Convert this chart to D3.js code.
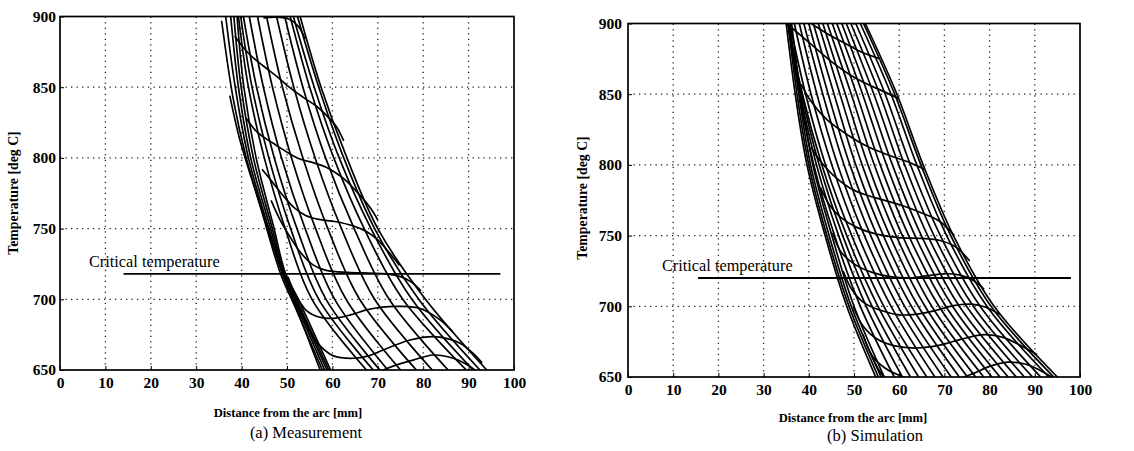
<!DOCTYPE html>
<html><head><meta charset="utf-8">
<script src="https://cdn.jsdelivr.net/npm/d3@7/dist/d3.min.js"></script>
<style>body{margin:0;background:#fff}svg{display:block}</style>
</head><body>
<svg id="c" width="1134" height="451"></svg>
<script>
// ---------- data ----------
const xTicks = [0,10,20,30,40,50,60,70,80,90,100];
const yTicks = [650,700,750,800,850,900];
const criticalTemp = [718, 720];           // (a), (b)
const criticalSpan = [[14,97],[15.5,98]];  // mm
const panelTitles = ["(a) Measurement", "(b) Simulation"];
const xLabel = "Distance from the arc [mm]";
const yLabel = "Temperature [deg C]";
const critLabel = "Critical temperature";

// temperature levels at which the steep lines are sampled
const tLevels = [900,850,800,750,700,650];

// (a) measurement: bundle of curves pinching near 49 mm / 718 C  ([mm, degC])
const measBundle = [
  [[35.6,897],[38.2,841],[41.1,799],[45.5,752],[49.0,718],[52.5,690],[57.3,650]],
  [[37.4,844],[39.6,813],[44.1,766],[48.6,718],[52.0,693],[57.8,650]],
  [[36.5,900],[38.6,850],[41.5,800],[45.8,752],[49.1,718],[51.5,700],[58.3,650]],
  [[37.6,900],[39.3,850],[42.0,800],[46.2,752],[49.3,718],[51.8,700],[58.8,650]],
  [[38.3,900],[39.9,850],[42.6,800],[46.6,752],[49.5,718],[52.1,700],[59.2,650]],
  [[39.0,900],[40.5,850],[43.2,800],[47.0,752],[49.7,718],[52.5,700],[59.6,650]]
];
// (a) measurement: steep curves, x [mm] at tLevels
const measSteep = [
  [39.3,41.5,45.0,49.6,55.5,67.5],
  [39.8,42.3,46.0,50.8,57.0,69.0],
  [40.4,43.3,47.2,52.2,58.6,70.5],
  [41.7,44.8,48.8,54.0,60.5,72.2],
  [43.5,46.8,51.0,56.3,63.0,75.0],
  [45.5,49.0,53.5,59.0,66.0,78.5],
  [47.7,51.5,56.2,62.0,69.3,82.0],
  [49.5,53.5,58.5,64.8,72.5,85.5],
  [50.7,55.0,60.3,67.0,75.5,89.5],
  [51.4,56.0,61.5,68.5,77.5,91.0],
  [52.3,57.0,62.5,69.3,79.0,92.5],
  [52.9,57.5,63.2,70.0,80.5,94.0]
];
// (a) measurement: wavy curves ([mm, degC])
const measWavy = [
  [[44.8,899],[47.5,899.5],[50.5,898],[52.5,893],[54.0,884]],
  [[38.5,886],[41.5,874],[44.8,865],[48,857],[50.7,849.5],[53.5,843],[56.5,836.5],[59,829],[60.9,822],[62.5,812]],
  [[41,828],[43.5,818],[47.6,809],[50.3,803.5],[53,799],[55.9,796.5],[58.5,793.5],[60.7,789.5],[63,784],[64.8,778],[66.5,772],[68.5,764],[70,756]],
  [[44.5,792],[47,782],[49.5,772],[51.5,765],[54,759.5],[57,756.5],[60.5,755],[64.5,752],[67.5,748],[70,742],[72.5,733],[74.8,724]],
  [[46.5,770],[48.5,756],[50.5,745],[53,733],[55.9,724],[58.6,720.5],[63.4,719],[68,718.5],[72,718],[75,716],[77.5,712],[79.5,706]],
  [[50.2,716],[51.8,704],[54.3,692],[57,687.5],[60.2,686.5],[64,689],[67.5,692.5],[71,694.5],[74.9,695],[79.3,693.5],[83.7,685.5],[86.5,677]],
  [[52.2,698],[53.8,686],[55.3,676],[57.3,667],[60.2,660],[64.6,658.3],[68,660],[71.2,664.2],[77.1,671.2],[82.2,673.6],[85.5,672],[88.1,669],[91,661.8],[93,655]],
  [[68,645],[71.2,650],[74.5,654],[77.8,657],[82.2,660.6],[86.6,658.3],[89,655],[91,651],[92,648]]
];

// (b) simulation: left bundle, x [mm] at tLevels
const simBundle = [
  [35.0,37.0,39.6,43.6,48.4,54.8],
  [35.4,37.4,40.0,44.0,48.9,55.4],
  [35.8,37.8,40.4,44.5,49.4,56.0],
  [36.2,38.2,40.9,45.1,50.0,56.7]
];
// (b) simulation: fan of steep lines, x [mm] at tLevels
const simSteep = [
  [35.4,37.9,41.1,45.7,51.4,58.9],
  [35.4,38.1,41.7,46.6,52.7,60.7],
  [35.4,38.4,42.3,47.5,54.0,62.5],
  [35.4,38.6,42.9,48.4,55.3,64.3],
  [35.8,39.3,43.7,49.5,56.6,66.1],
  [36.8,40.5,45.1,50.9,58.2,67.9],
  [37.9,41.8,46.4,52.3,59.7,69.7],
  [38.9,43.1,47.8,53.7,61.2,71.5],
  [40.0,44.3,49.1,55.1,62.7,73.3],
  [41.0,45.6,50.4,56.5,64.2,75.1],
  [42.1,46.9,51.8,57.9,65.7,76.9],
  [43.1,48.1,53.1,59.3,67.2,78.7],
  [44.1,49.4,54.5,60.7,68.8,80.5],
  [45.2,50.6,55.8,62.1,70.3,82.3],
  [46.2,51.9,57.2,63.5,71.8,84.1],
  [47.3,53.1,58.5,64.9,73.3,85.9],
  [48.3,54.4,59.9,66.3,74.9,87.7],
  [49.3,55.7,61.2,67.7,76.4,89.5],
  [50.4,56.9,62.5,69.1,77.9,91.3],
  [51.4,58.2,63.9,70.5,79.4,93.1]
];
// (b) simulation: right envelope, x [mm] at tLevels
const simEnvelope = [
  [52.1,59.0,64.8,71.4,80.3,94.2],
  [52.5,59.5,65.3,72.0,81.0,95.0]
];
// (b) simulation: wavy curves ([mm, degC])
const simWavy = [
  [[40.5,900],[44,893],[48,886],[51.5,880],[55.8,875]],
  [[36.2,897],[41,884],[45,873],[49,864],[53,857],[56.5,852],[59.8,847]],
  [[38.3,857],[40.5,845],[44,832],[48.7,821],[53,813],[57.6,807],[62,802],[65.5,797]],
  [[40.6,812],[42.5,803],[46,791],[50,782],[55,776.5],[60,772],[65,766],[69,760],[72.2,750]],
  [[42.6,784],[44.5,772],[47,763],[50.5,756],[55,751],[60,748.5],[65,748],[69,746.5],[72.5,742],[75.6,732]],
  [[45.3,752],[47,739],[50,730],[54,724],[58,721],[62,720],[66,721.5],[70,723],[73.5,722],[76.5,718],[78.8,712]],
  [[47.6,725],[49.5,712],[52,703],[56,697],[60,694],[64,694.5],[68,697],[72,700.5],[76,701.5],[79,699.5],[82.4,694]],
  [[49.8,700],[52,686],[55,677],[59,672],[64,670.5],[69,672.5],[74,677],[79,680],[83,678],[87,672],[90.5,666]],
  [[52,680],[54,665],[57,656],[61,650],[66,646],[71,647],[76,652],[80,657.5],[84,660.5],[88,659],[91,655],[94.3,649]],
  [[53.5,668],[55.5,655],[58,645]]
];

// ---------- drawing ----------
const svg = d3.select("#c");
const SERIF = "'Liberation Serif','Times New Roman',serif";

function levelsToPts(xs){ return xs.map((v,i)=>[v,tLevels[i]]); }

function drawPanel(p){
  const x = d3.scaleLinear().domain([0,100]).range(p.xr);
  const y = d3.scaleLinear().domain([650,900]).range(p.yr);
  const g = svg.append("g");
  const clipId = "clip"+p.idx;
  g.append("clipPath").attr("id",clipId).append("rect")
    .attr("x",p.xr[0]).attr("y",p.yr[1]).attr("width",p.xr[1]-p.xr[0]).attr("height",p.yr[0]-p.yr[1]);

  // grid
  const grid = g.append("g").attr("stroke","#222").attr("stroke-width",1.3).attr("stroke-dasharray","1.3,4.2");
  grid.selectAll("line.v").data(xTicks.slice(1,-1)).join("line")
    .attr("x1",d=>x(d)).attr("x2",d=>x(d)).attr("y1",p.yr[0]).attr("y2",p.yr[1]);
  grid.selectAll("line.h").data(yTicks.slice(1,-1)).join("line")
    .attr("y1",d=>y(d)).attr("y2",d=>y(d)).attr("x1",p.xr[0]).attr("x2",p.xr[1]);

  // axes
  const ax = g.append("g").attr("transform",`translate(0,${p.yr[0]})`)
    .call(d3.axisBottom(x).tickValues(xTicks).tickSize(-4).tickPadding(7));
  const ay = g.append("g").attr("transform",`translate(${p.xr[0]},0)`)
    .call(d3.axisLeft(y).tickValues(yTicks).tickSize(-4).tickPadding(p.yPad));
  [ax,ay].forEach(a=>{
    a.select(".domain").remove();
    a.selectAll("line").attr("stroke","#000");
    a.selectAll("text").attr("font-family",SERIF).attr("font-weight","bold").attr("font-size",15.5).attr("fill","#000");
  });

  // curves
  const line = d3.line().x(d=>x(d[0])).y(d=>y(d[1])).curve(d3.curveCatmullRom.alpha(0.5));
  const cg = g.append("g").attr("clip-path",`url(#${clipId})`)
    .attr("fill","none").attr("stroke","#000").attr("stroke-width",1.7).attr("stroke-linejoin","round");
  p.curves.forEach(c=>cg.append("path").attr("d",line(c)));

  // critical temperature line
  g.append("line").attr("x1",x(p.crit[0])).attr("x2",x(p.crit[1]))
    .attr("y1",y(p.critT)).attr("y2",y(p.critT)).attr("stroke","#000").attr("stroke-width",1.9);
  g.append("text").attr("x",p.critText[0]).attr("y",p.critText[1])
    .attr("font-family",SERIF).attr("font-size",16.3).text(critLabel);

  // frame
  g.append("rect").attr("x",p.xr[0]).attr("y",p.yr[1]).attr("width",p.xr[1]-p.xr[0]).attr("height",p.yr[0]-p.yr[1])
    .attr("fill","none").attr("stroke","#000").attr("stroke-width",1.7);

  // labels
  g.append("text").attr("x",p.xl[0]).attr("y",p.xl[1]).attr("text-anchor","middle")
    .attr("font-family",SERIF).attr("font-size",12.6).attr("font-weight","bold").text(xLabel);
  g.append("text").attr("x",p.tt[0]).attr("y",p.tt[1]).attr("text-anchor","middle")
    .attr("font-family",SERIF).attr("font-size",16.5).text(p.title);
  g.append("text").attr("transform",`translate(${p.yl[0]},${p.yl[1]}) rotate(-90)`).attr("text-anchor","middle")
    .attr("font-family",SERIF).attr("font-size",13.8).attr("font-weight","bold").text(yLabel);
}

drawPanel({
  idx:0, xr:[60,514], yr:[370,16.5], yPad:4,
  curves:[...measBundle, ...measSteep.map(levelsToPts), ...measWavy],
  crit:criticalSpan[0], critT:criticalTemp[0], critText:[89,267],
  xl:[288,417], tt:[306,438], yl:[18,193], title:panelTitles[0]
});
drawPanel({
  idx:1, xr:[628,1080], yr:[377,23.5], yPad:6,
  curves:[...simBundle.map(levelsToPts), ...simSteep.map(levelsToPts), ...simEnvelope.map(levelsToPts), ...simWavy],
  crit:criticalSpan[1], critT:criticalTemp[1], critText:[662,271],
  xl:[853,422], tt:[875,441], yl:[587,198], title:panelTitles[1]
});
</script>
</body></html>
